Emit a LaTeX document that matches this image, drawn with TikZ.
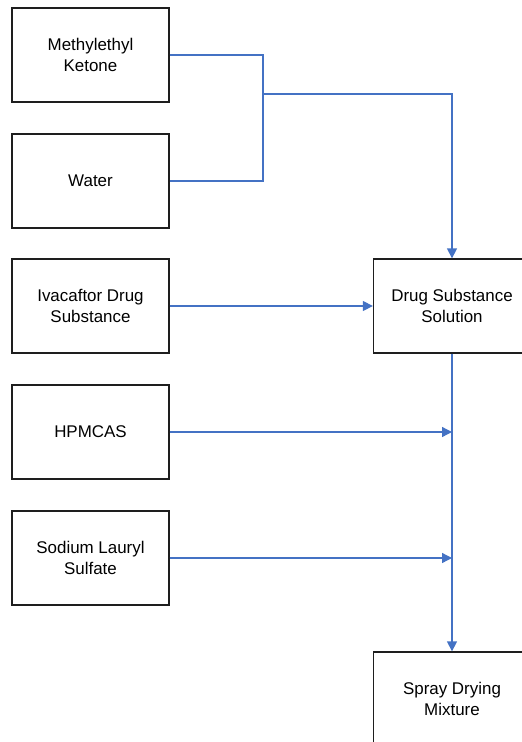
\documentclass[tikz,border=0pt]{standalone}
\usepackage{fontspec}
\setmainfont{Liberation Sans}
\usetikzlibrary{arrows.meta, positioning}
\definecolor{flowLine}{HTML}{4472C4}
\definecolor{flowBox}{HTML}{1E1E1E}
\tikzset{
  flowfig/.style={
    x=1bp, y=-1bp,
    every node/.append style={font=\fontsize{17}{21}\selectfont},
    >={Triangle[length=10bp, width=10bp]},
  },
  stagebox/.style={
    draw=flowBox, line width=1.3bp, align=center, inner sep=0pt,
    minimum width=157bp, minimum height=94bp,
  },
  feed/.style={draw=flowLine, line width=1.3bp},
  feedarrow/.style={feed, ->},
}

\begin{document}
\begin{tikzpicture}[flowfig]
  \useasboundingbox (0,0) rectangle (522,742);
  \clip (0,0) rectangle (522,742);
  % Ausgangsstoffe links
  \node[stagebox] (MEK) at (90.5,55) {Methylethyl\\Ketone};
  \node[stagebox] (Water) at (90.5,181) {Water};
  \node[stagebox] (Ivacaftor) at (90.5,306) {Ivacaftor Drug\\Substance};
  \node[stagebox] (HPMCAS) at (90.5,432) {HPMCAS};
  \node[stagebox] (SLS) at (90.5,558) {Sodium Lauryl\\Sulfate};
  % Zwischen- und Endprodukt rechts
  \node[stagebox] (Solution) at (452,306) {Drug Substance\\Solution};
  \node[stagebox] (SprayMix) at (452,699) {Spray Drying\\Mixture};
  \coordinate (SolventJoin) at (263,94);
  \coordinate (HPMCASin) at (HPMCAS.east -| Solution.south);
  \coordinate (SLSin) at (SLS.east -| Solution.south);
  \draw[feed] (MEK.east) -| (SolventJoin) |- (Water.east);
  \draw[feedarrow] (SolventJoin) -| (Solution.north);
  \draw[feedarrow] (Ivacaftor.east) -- (Solution.west);
  \draw[feedarrow] (Solution.south) -- (SprayMix.north);
  \draw[feedarrow] (HPMCAS.east) -- (HPMCASin);
  \draw[feedarrow] (SLS.east) -- (SLSin);
\end{tikzpicture}
\end{document}
